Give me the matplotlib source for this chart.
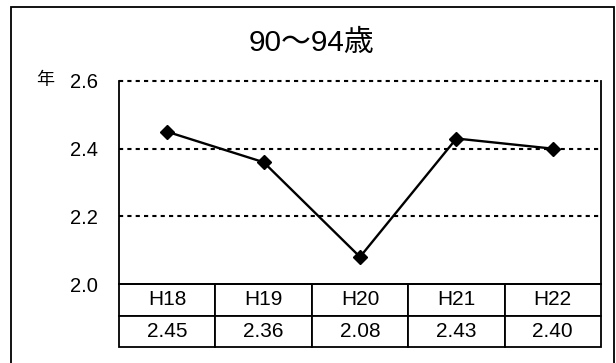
import matplotlib
matplotlib.use('Agg')
import matplotlib.pyplot as plt
from matplotlib.patches import Rectangle

plt.rcParams['font.family'] = ['Liberation Sans', 'Noto Sans CJK JP']

# 平均在院年数 90〜94歳
years = ['H18', 'H19', 'H20', 'H21', 'H22']
values = [2.45, 2.36, 2.08, 2.43, 2.40]
title = '90〜94歳'
yticks = [2.0, 2.2, 2.4, 2.6]

W, H = 616, 363
fig = plt.figure(figsize=(W / 100, H / 100), dpi=100)

# outer frame
fig.patches.append(Rectangle((11 / W, -0.05), (614 - 11) / W, 1.05 - 7 / H,
                             transform=fig.transFigure, fill=False,
                             edgecolor='black', linewidth=1.3))

ax = fig.add_axes([119 / W, 1 - 284 / H, (601 - 119) / W, (284 - 81) / H])
x = list(range(len(values)))
ax.plot(x, values, 'k-', lw=1.7, marker='D', markersize=7.5, zorder=3, clip_on=False)

ax.set_xlim(-0.5, len(values) - 0.5)
ax.set_ylim(2.0, 2.6)
ax.set_yticks(yticks)
ax.set_yticklabels(['%.1f' % v for v in yticks], fontsize=14.5)
ax.tick_params(axis='y', length=0, pad=15)
ax.set_xticks([])
for v in yticks[1:]:
    ax.axhline(v, color='black', lw=1.5, linestyle=(0, (2, 2)), zorder=1, clip_on=False)
ax.spines['top'].set_visible(False)
for s in ['left', 'right', 'bottom']:
    ax.spines[s].set_linewidth(1.3)

# data table under the chart
tbl = ax.table(cellText=[years, ['%.2f' % v for v in values]],
               cellLoc='center', bbox=[0, -63 / 203, 1, 63 / 203])
tbl.auto_set_font_size(False)
tbl.set_fontsize(15)
for cell in tbl.get_celld().values():
    cell.set_linewidth(1.3)

fig.text(312 / W, 1 - 43 / H, title, ha='center', va='center', fontsize=21.5)
fig.text(45 / W, 1 - 81 / H, '年', ha='center', va='center', fontsize=13)

fig.savefig('out.png', dpi=100)
